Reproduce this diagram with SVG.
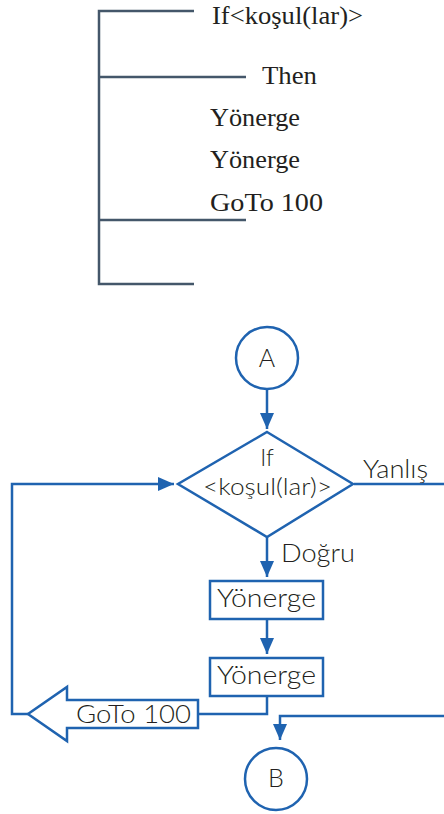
<svg xmlns="http://www.w3.org/2000/svg" width="444" height="814" viewBox="0 0 444 814">
<style>
.br{stroke:#44576a;stroke-width:2.5;fill:none}
.sf{font-family:"Liberation Serif",serif;font-size:26px;fill:#231f20}
.ln{stroke:#1f63b0;stroke-width:2.5;fill:none}
.sh{stroke:#1f63b0;stroke-width:2.5;fill:#fff}
.ss{font-family:Lato,"Noto Sans",sans-serif;font-size:25px;font-weight:300;fill:#231f20}
.ds{font-size:23px}
.c{text-anchor:middle}
</style>
<defs>
<marker id="ah" markerUnits="userSpaceOnUse" markerWidth="16" markerHeight="16" viewBox="0 0 16 14" refX="16" refY="7" orient="auto">
<path d="M0,0 L16,7 L0,14 Z" fill="#1f63b0"/>
</marker>
</defs>
<g id="pseudocode">
<path class="br" d="M194,11 H99 V284 H194 M99,77 H246 M99,220 H246"/>
<text class="sf" x="212" y="24" textLength="151" lengthAdjust="spacingAndGlyphs">If&lt;koşul(lar)&gt;</text>
<text class="sf" x="262" y="84" textLength="55" lengthAdjust="spacingAndGlyphs">Then</text>
<text class="sf" x="210" y="126" textLength="90" lengthAdjust="spacingAndGlyphs">Yönerge</text>
<text class="sf" x="210" y="168" textLength="90" lengthAdjust="spacingAndGlyphs">Yönerge</text>
<text class="sf" x="210" y="211" textLength="113" lengthAdjust="spacingAndGlyphs">GoTo 100</text>
</g>
<g id="connectors">
<line class="ln" x1="267" y1="389" x2="267" y2="429" marker-end="url(#ah)"/>
<line class="ln" x1="267" y1="537" x2="267" y2="577" marker-end="url(#ah)"/>
<line class="ln" x1="267" y1="619" x2="267" y2="654" marker-end="url(#ah)"/>
<path class="ln" d="M267,696 V714 H198"/>
<path class="ln" d="M28,714 H12 V484 H174" marker-end="url(#ah)"/>
<path class="ln" d="M354,484 H446"/>
<path class="ln" d="M446,716 H280 V740" marker-end="url(#ah)"/>
<text class="ss" x="363" y="478" textLength="65" lengthAdjust="spacingAndGlyphs">Yanlış</text>
<text class="ss" x="281" y="562" textLength="74" lengthAdjust="spacingAndGlyphs">Doğru</text>
</g>
<g id="nodeA">
<circle class="sh" cx="267" cy="358" r="31"/>
<text class="ss c" x="267" y="367">A</text>
</g>
<g id="decision">
<polygon class="sh" points="267,432 353,484 267,537 178,484"/>
<text class="ss ds c" x="267" y="466">If</text>
<text class="ss ds c" x="267.5" y="495" textLength="129" lengthAdjust="spacingAndGlyphs">&lt;koşul(lar)&gt;</text>
</g>
<g id="step1">
<rect class="sh" x="210" y="581" width="113" height="38"/>
<text class="ss" x="217" y="607" textLength="99" lengthAdjust="spacingAndGlyphs">Yönerge</text>
</g>
<g id="step2">
<rect class="sh" x="210" y="658" width="113" height="38"/>
<text class="ss" x="217" y="684" textLength="99" lengthAdjust="spacingAndGlyphs">Yönerge</text>
</g>
<g id="goto">
<polygon class="sh" points="198,700 67,700 67,687 28,714 67,741 67,728 198,728"/>
<text class="ss" x="76" y="723" textLength="115" lengthAdjust="spacingAndGlyphs">GoTo 100</text>
</g>
<g id="nodeB">
<circle class="sh" cx="276" cy="779" r="31"/>
<text class="ss c" x="276" y="787">B</text>
</g>
</svg>
